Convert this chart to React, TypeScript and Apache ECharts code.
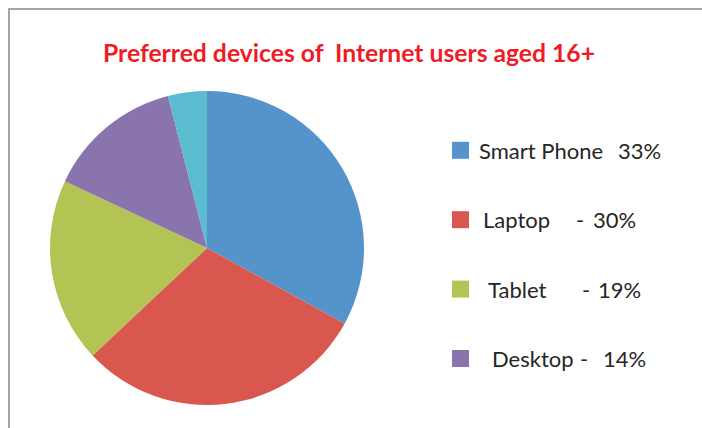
import React, { useEffect, useRef } from "react";
import * as echarts from "echarts";

const titleText = "Preferred devices of  Internet users aged 16+";
const categories = ["Smart Phone", "Laptop", "Tablet", "Desktop", "Other"];
const values = [33, 30, 19, 14, 4];
const legendNames = ["Smart Phone", "Laptop", "Tablet", "Desktop"];
const legendPct = ["33%", "30%", "19%", "14%"];
const colors = ["#5594cb", "#d9574f", "#b4c454", "#8a74ae", "#5bbcd0"];

// per legend item layout: [lead, dashOffset (or -1), pctOffset]
const legendLayout = [
  [5, -1, 144],
  [9, 102, 119],
  [14, 108, 124],
  [18, 106, 129],
];

export default function App() {
  const ref = useRef<HTMLDivElement>(null);
  useEffect(() => {
    document.body.style.margin = "0";
    const chart = echarts.init(ref.current!, null, { renderer: "svg" });
    const rich: any = { pct: {} };
    legendLayout.forEach((l, i) => {
      rich[`lead${i}`] = { width: l[0] };
      if (l[1] >= 0) {
        rich[`name${i}`] = { width: l[1] - l[0] };
        rich[`dsh${i}`] = { width: l[2] - l[1] };
      } else {
        rich[`name${i}`] = { width: l[2] - l[0] };
      }
    });
    Object.keys(rich).forEach((k) => {
      rich[k] = {
        ...rich[k],
        fontFamily: "Lato",
        fontSize: 22,
        color: "#262626",
        lineHeight: 17,
      };
    });
    chart.setOption({
      animation: false,
      title: {
        text: titleText,
        left: 344,
        textAlign: "center",
        top: 35,
        textStyle: {
          fontFamily: "Lato",
          fontWeight: "bold",
          fontSize: 24.7,
          color: "#ee1c24",
        },
      },
      graphic: [
        {
          type: "rect",
          shape: { x: 9, y: 9, width: 720, height: 450 },
          style: { fill: "none", stroke: "#a6a6a6", lineWidth: 2 },
          silent: true,
        },
      ],
      legend: {
        orient: "vertical",
        left: 452,
        top: 139.3,
        padding: 0,
        itemWidth: 17,
        itemHeight: 17,
        itemGap: 47.4,
        icon: "rect",
        selectedMode: false,
        data: legendNames,
        formatter: (name: string) => {
          const i = legendNames.indexOf(name);
          const l = legendLayout[i];
          let s = `{lead${i}|}{name${i}|${name}}`;
          if (l[1] >= 0) s += `{dsh${i}|-}`;
          s += `{pct|${legendPct[i]}}`;
          return s;
        },
        itemStyle: { borderWidth: 0 },
        textStyle: { rich },
      },
      series: [
        {
          type: "pie",
          center: [207, 248],
          radius: 157,
          startAngle: 90,
          clockwise: true,
          label: { show: false },
          labelLine: { show: false },
          emphasis: { disabled: true },
          itemStyle: { borderWidth: 0 },
          data: categories.map((c, i) => ({
            name: c,
            value: values[i],
            itemStyle: { color: colors[i] },
          })),
        },
      ],
    });
    return () => chart.dispose();
  }, []);
  return <div ref={ref} style={{ width: 702, height: 428 }} />;
}
